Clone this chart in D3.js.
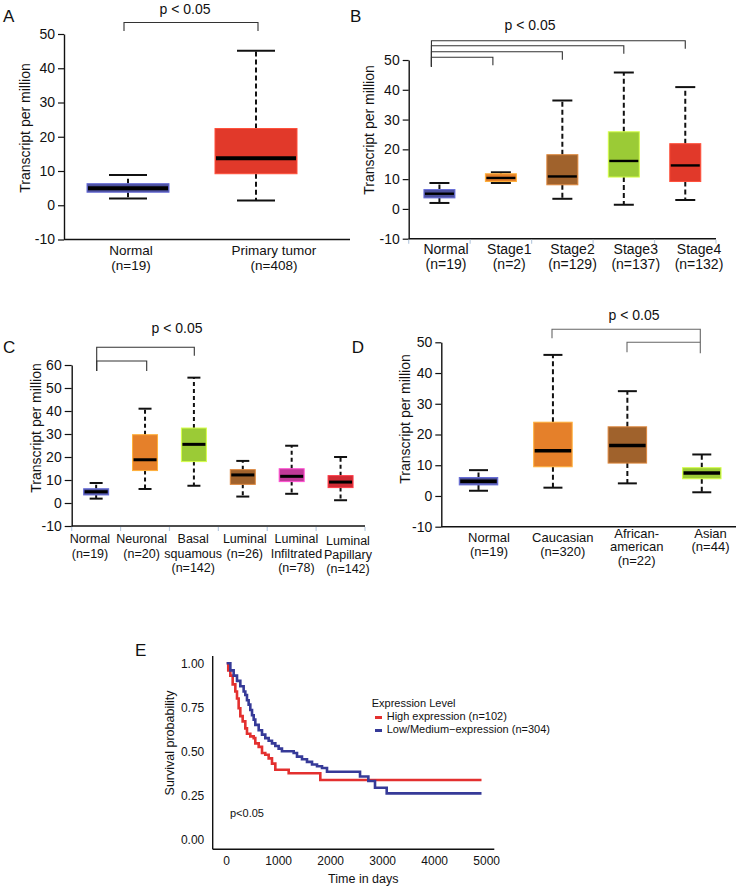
<!DOCTYPE html>
<html>
<head>
<meta charset="utf-8">
<script src="https://cdn.jsdelivr.net/npm/d3@7"></script>
<style>
html,body{margin:0;padding:0;background:#fff;}
svg{display:block;}
</style>
</head>
<body>
<svg id="chart" width="744" height="888"></svg>
<script>
// ---------------- DATA ----------------
// Panel A
const catsA = ["Normal", "Primary tumor"];
const labelsA = [["Normal", "(n=19)"], ["Primary tumor", "(n=408)"]];
const loA  = [2.0, 1.4];
const q1A  = [3.8, 9.2];
const medA = [5.0, 13.7];
const q3A  = [6.3, 22.4];
const hiA  = [8.8, 45.1];

// Panel B
const catsB = ["Normal", "Stage1", "Stage2", "Stage3", "Stage4"];
const labelsB = [["Normal", "(n=19)"], ["Stage1", "(n=2)"], ["Stage2", "(n=129)"], ["Stage3", "(n=137)"], ["Stage4", "(n=132)"]];
const loB  = [2.0, 8.7, 3.4, 1.4, 3.0];
const q1B  = [3.7, 9.2, 8.1, 10.7, 9.2];
const medB = [5.1, 10.4, 10.9, 16.1, 14.6];
const q3B  = [6.5, 11.8, 18.2, 25.9, 21.9];
const hiB  = [8.7, 12.3, 36.4, 45.8, 40.9];

// Panel C
const catsC = ["Normal", "Neuronal", "Basal squamous", "Luminal", "Luminal Infiltrated", "Luminal Papillary"];
const labelsC = [["Normal", "(n=19)"], ["Neuronal", "(n=20)"], ["Basal", "squamous", "(n=142)"], ["Luminal", "(n=26)"], ["Luminal", "Infiltrated", "(n=78)"], ["Luminal", "Papillary", "(n=142)"]];
const loC  = [1.9, 6.1, 7.5, 2.8, 4.0, 1.2];
const q1C  = [3.5, 14.1, 18.0, 8.1, 9.3, 6.7];
const medC = [4.9, 18.8, 25.5, 12.2, 11.6, 9.1];
const q3C  = [6.2, 29.7, 32.6, 14.5, 14.9, 11.9];
const hiC  = [8.7, 41.0, 54.5, 18.3, 24.9, 20.0];

// Panel D
const catsD = ["Normal", "Caucasian", "African-american", "Asian"];
const labelsD = [["Normal", "(n=19)"], ["Caucasian", "(n=320)"], ["African-", "american", "(n=22)"], ["Asian", "(n=44)"]];
const loD  = [1.7, 2.7, 4.1, 1.2];
const q1D  = [3.6, 9.5, 10.7, 5.6];
const medD = [4.8, 14.7, 16.4, 7.5];
const q3D  = [6.0, 24.0, 22.5, 9.2];
const hiD  = [8.4, 45.9, 34.1, 13.5];

// Box tick labels
const ticksAB = [-10, 0, 10, 20, 30, 40, 50];
const ticksC  = [-10, 0, 10, 20, 30, 40, 50, 60];

// Panel E (Kaplan-Meier)
const redDays  = [0, 30, 70, 115, 166, 198, 230, 262, 307, 358, 390, 454, 519, 550, 615, 679, 742, 807, 871, 935, 1192, 1800, 4900];
const redSurv  = [1.00, 0.96, 0.93, 0.88, 0.84, 0.80, 0.745, 0.70, 0.67, 0.63, 0.60, 0.585, 0.575, 0.545, 0.525, 0.49, 0.48, 0.46, 0.43, 0.395, 0.375, 0.337, 0.337];
const blueDays = [0, 70, 134, 198, 262, 326, 358, 390, 422, 454, 487, 519, 550, 615, 679, 742, 807, 871, 935, 999, 1063, 1288, 1352, 1448, 1544, 1641, 1737, 1833, 1929, 2564, 2724, 2852, 3077, 4900];
const blueSurv = [1.00, 0.96, 0.93, 0.90, 0.87, 0.84, 0.82, 0.79, 0.765, 0.735, 0.705, 0.68, 0.65, 0.62, 0.595, 0.575, 0.56, 0.545, 0.53, 0.515, 0.50, 0.49, 0.47, 0.455, 0.44, 0.425, 0.415, 0.405, 0.384, 0.357, 0.331, 0.293, 0.261, 0.261];
const ticksEx = [0, 1000, 2000, 3000, 4000, 5000];
const ticksEy = [0, 0.25, 0.5, 0.75, 1.0];
const legendE = ["High expression (n=102)", "Low/Medium\u2212expression (n=304)"];

// ---------------- STYLE ----------------
const FONT = "'Liberation Sans', Arial, Helvetica, sans-serif";
const C_NORMAL = "#4b4f9c", C_RED = "#e1392a", C_ORANGE = "#e5802a", C_BROWN = "#a0622c",
      C_GREEN = "#9bcb36", C_MAGENTA = "#c03a98", C_DRED = "#cf2a33";
const colorsA = [C_NORMAL, C_RED];
const colorsB = [C_NORMAL, C_ORANGE, C_BROWN, C_GREEN, C_RED];
const colorsC = [C_NORMAL, C_ORANGE, C_GREEN, C_BROWN, C_MAGENTA, C_DRED];
const colorsD = [C_NORMAL, C_ORANGE, C_BROWN, C_GREEN];

const svg = d3.select("#chart").style("font-family", FONT);

function boxPanel(o) {
  const g = svg.append("g");
  const y = d3.scaleLinear().domain(o.yDomain).range(o.yRange);
  const x = d3.scaleBand().domain(o.cats).range(o.bandRange);
  const xl = d3.scalePoint().domain(o.cats).range(o.labelRange);
  const cx = c => x(c) + x.bandwidth() / 2;

  // y axis
  const ya = g.append("g").attr("transform", `translate(${o.axisX},0)`)
    .call(d3.axisLeft(y).tickValues(o.ticks).tickFormat(d => String(d))
      .tickSize(o.tickSize).tickPadding(3).tickSizeOuter(0));
  ya.select(".domain").attr("stroke", "#111").attr("stroke-width", 1.4);
  ya.selectAll(".tick line").attr("stroke", "#111").attr("stroke-width", 1.2);
  ya.selectAll(".tick text").attr("font-size", o.tickFont).attr("fill", "#111").attr("font-family", FONT);

  // x axis line
  g.append("line").attr("x1", o.axisX).attr("x2", o.xEnd)
    .attr("y1", y(o.yDomain[0])).attr("y2", y(o.yDomain[0]))
    .attr("stroke", "#111").attr("stroke-width", 1.4);
  if (o.xTicks) {
    const bounds = o.cats.map(c => x(c)).concat([x(o.cats[o.cats.length - 1]) + x.bandwidth()]);
    g.selectAll(".xt").data(bounds).join("line")
      .attr("x1", d => d).attr("x2", d => d)
      .attr("y1", y(o.yDomain[0]) + 1).attr("y2", y(o.yDomain[0]) + 5)
      .attr("stroke", "#b9cbe0").attr("stroke-width", 1.2);
  }

  // y label
  g.append("text").attr("transform", `translate(${o.yLabel[0]},${o.yLabel[1]}) rotate(-90)`)
    .attr("text-anchor", "middle").attr("dominant-baseline", "central")
    .attr("font-size", o.yLabelFont).attr("fill", "#111").text("Transcript per million");

  // boxes
  o.cats.forEach((c, i) => {
    const xc = cx(c);
    const bw = o.boxW, cw = o.capW;
    g.append("line").attr("x1", xc).attr("x2", xc).attr("y1", y(o.q3[i])).attr("y2", y(o.hi[i]))
      .attr("stroke", "#111").attr("stroke-width", 2).attr("stroke-dasharray", o.dash);
    g.append("line").attr("x1", xc).attr("x2", xc).attr("y1", y(o.q1[i])).attr("y2", y(o.lo[i]))
      .attr("stroke", "#111").attr("stroke-width", 2).attr("stroke-dasharray", o.dash);
    [o.hi[i], o.lo[i]].forEach(v => {
      g.append("line").attr("x1", xc - cw / 2).attr("x2", xc + cw / 2).attr("y1", y(v)).attr("y2", y(v))
        .attr("stroke", "#111").attr("stroke-width", 2);
    });
    g.append("rect").attr("x", xc - bw / 2).attr("width", bw)
      .attr("y", y(o.q3[i])).attr("height", y(o.q1[i]) - y(o.q3[i]))
      .attr("fill", o.colors[i])
      .attr("stroke", d3.color(o.colors[i]).brighter(0.9)).attr("stroke-width", 1);
    g.append("line").attr("x1", xc - bw / 2 + 1).attr("x2", xc + bw / 2 - 1)
      .attr("y1", y(o.med[i])).attr("y2", y(o.med[i]))
      .attr("stroke", "#000").attr("stroke-width", o.medW);
  });

  // x labels
  o.cats.forEach((c, i) => {
    const t = g.append("text").attr("text-anchor", "middle").attr("font-size", o.labelFont).attr("fill", "#111");
    const shift = o.labelShift ? o.labelShift[i] : 0;
    o.labels[i].forEach((line, k) => {
      t.append("tspan").attr("x", xl(c)).attr("y", o.labelY + shift + k * o.lineH).text(line);
    });
  });

  g.append("text").attr("x", o.letter[1]).attr("y", o.letter[2]).attr("font-size", 17)
    .attr("fill", "#111").text(o.letter[0]);

  g.append("text").attr("x", o.pText[0]).attr("y", o.pText[1]).attr("text-anchor", "middle")
    .attr("font-size", 14).attr("fill", "#111").text("p < 0.05");

  return {g, x, y, cx};
}

function bracket(g, x1, x2, yTop, y1Bottom, y2Bottom, color) {
  g.append("path")
    .attr("d", `M${x1},${y1Bottom}V${yTop}H${x2}V${y2Bottom}`)
    .attr("fill", "none").attr("stroke", color).attr("stroke-width", 1.1);
}

// ---------------- Panel A ----------------
const pA = boxPanel({
  cats: catsA, labels: labelsA, lo: loA, q1: q1A, med: medA, q3: q3A, hi: hiA, colors: colorsA,
  yDomain: [-10, 50], yRange: [239.5, 34], ticks: ticksAB,
  axisX: 64, xEnd: 350, bandRange: [64, 320], labelRange: [131, 274],
  boxW: 82, capW: 38, medW: 4, dash: "5,3", tickSize: 6, tickFont: 14,
  yLabel: [25, 128], yLabelFont: 14, labelFont: 13.5, labelY: 254.5, lineH: 15,
  letter: ["A", 3, 22], pText: [185, 14], xTicks: false
});
bracket(pA.g, 124, 258, 22.5, 31, 31, "#333");

// ---------------- Panel B ----------------
const pB = boxPanel({
  cats: catsB, labels: labelsB, lo: loB, q1: q1B, med: medB, q3: q3B, hi: hiB, colors: colorsB,
  yDomain: [-10, 50], yRange: [238.7, 60], ticks: ticksAB,
  axisX: 408.7, xEnd: 716, bandRange: [408.7, 716], labelRange: [446, 699],
  boxW: 31, capW: 20, medW: 2.4, dash: "5,3", tickSize: 6, tickFont: 14,
  yLabel: [369, 130], yLabelFont: 14, labelFont: 14, labelY: 254, lineH: 14.5,
  letter: ["B", 350, 22], pText: [530, 30], xTicks: true
});
{
  const xN = pB.cx("Normal") - 8;
  const levels = [
    ["Stage4", 40.7], ["Stage3", 45.7], ["Stage2", 51.7], ["Stage1", 57.3]
  ];
  levels.forEach(([c, yl]) => {
    const xr = c === "Stage1" ? pB.cx(c) - 8 : pB.cx(c);
    bracket(pB.g, xN, xr, yl, 66.7, yl + 8, "#333");
  });
}

// ---------------- Panel C ----------------
const pC = boxPanel({
  cats: catsC, labels: labelsC, lo: loC, q1: q1C, med: medC, q3: q3C, hi: hiC, colors: colorsC,
  yDomain: [-10, 60], yRange: [526, 365], ticks: ticksC,
  axisX: 71.7, xEnd: 365, bandRange: [71.7, 365], labelRange: [90, 348],
  boxW: 25, capW: 13, medW: 3, dash: "4,3", tickSize: 7, tickFont: 14,
  yLabel: [36, 428], yLabelFont: 14, labelFont: 12.5, labelY: 543.3, lineH: 14.3,
  labelShift: [0, 0, 0, 0, 0, 1.5],
  letter: ["C", 3, 353], pText: [177, 333], xTicks: true
});
bracket(pC.g, 96.7, 194.3, 347.3, 371, 355.7, "#333");
bracket(pC.g, 96.7, 146.7, 361, 371, 371, "#333");

// ---------------- Panel D ----------------
const pD = boxPanel({
  cats: catsD, labels: labelsD, lo: loD, q1: q1D, med: medD, q3: q3D, hi: hiD, colors: colorsD,
  yDomain: [-10, 50], yRange: [526.7, 342.3], ticks: ticksAB,
  axisX: 441.3, xEnd: 736, bandRange: [441.3, 739], labelRange: [489, 710.5],
  boxW: 38.5, capW: 19, medW: 3.5, dash: "5,3", tickSize: 6, tickFont: 14,
  yLabel: [404.5, 419], yLabelFont: 14, labelFont: 13, labelY: 542, lineH: 13.6,
  labelShift: [0, 0, -4.5, -4.5],
  letter: ["D", 351.7, 353], pText: [634, 319.5], xTicks: false
});
bracket(pD.g, 552, 700.3, 329.3, 338.3, 353.3, "#666");
bracket(pD.g, 627, 700.3, 342.3, 352.3, 342.3, "#666");

// ---------------- Panel E ----------------
{
  const g = svg.append("g");
  const x = d3.scaleLinear().domain([0, 5000]).range([226.7, 486.7]);
  const y = d3.scaleLinear().domain([0, 1]).range([839.3, 663.3]);
  const axX = 212.7, axY = 849.3;

  g.append("line").attr("x1", axX).attr("x2", axX).attr("y1", 656).attr("y2", axY)
    .attr("stroke", "#111").attr("stroke-width", 1.4);
  g.append("line").attr("x1", axX).attr("x2", 494.3).attr("y1", axY).attr("y2", axY)
    .attr("stroke", "#111").attr("stroke-width", 1.4);

  g.selectAll(".yt").data(ticksEy).join("text")
    .attr("x", 204.3).attr("y", d => y(d)).attr("dy", "0.35em")
    .attr("text-anchor", "end").attr("font-size", 12).attr("fill", "#111")
    .text(d => d3.format(".2f")(d));
  g.selectAll(".xt").data(ticksEx).join("text")
    .attr("x", d => x(d)).attr("y", 864.5)
    .attr("text-anchor", "middle").attr("font-size", 12).attr("fill", "#111")
    .text(d => d);

  g.append("text").attr("x", 363.3).attr("y", 883).attr("text-anchor", "middle")
    .attr("font-size", 12.5).attr("fill", "#111").text("Time in days");
  g.append("text").attr("transform", "translate(170,743) rotate(-90)")
    .attr("text-anchor", "middle").attr("dominant-baseline", "central")
    .attr("font-size", 12.5).attr("fill", "#111").text("Survival probability");

  const line = d3.line().x(d => x(d[0])).y(d => y(d[1])).curve(d3.curveStepAfter);
  const red = redDays.map((d, i) => [d, redSurv[i]]);
  const blue = blueDays.map((d, i) => [d, blueSurv[i]]);
  g.append("path").attr("d", line(red)).attr("fill", "none").attr("stroke", "#e3302f").attr("stroke-width", 2.6);
  g.append("path").attr("d", line(blue)).attr("fill", "none").attr("stroke", "#363a98").attr("stroke-width", 2.6);

  g.append("text").attr("x", 230).attr("y", 816.5).attr("font-size", 11).attr("fill", "#111").text("p<0.05");

  g.append("text").attr("x", 371.7).attr("y", 706.5).attr("font-size", 11).attr("fill", "#111").text("Expression Level");
  const legCol = ["#e3302f", "#363a98"];
  legendE.forEach((t, i) => {
    g.append("rect").attr("x", 375).attr("y", 716 + i * 13).attr("width", 7).attr("height", 3).attr("fill", legCol[i]);
    g.append("text").attr("x", 386.7).attr("y", 719 + i * 12.5).attr("dy", "0.12em")
      .attr("font-size", 11).attr("fill", "#111").text(t);
  });

  g.append("text").attr("x", 135).attr("y", 656).attr("font-size", 17).attr("fill", "#111").text("E");
}
</script>
</body>
</html>
